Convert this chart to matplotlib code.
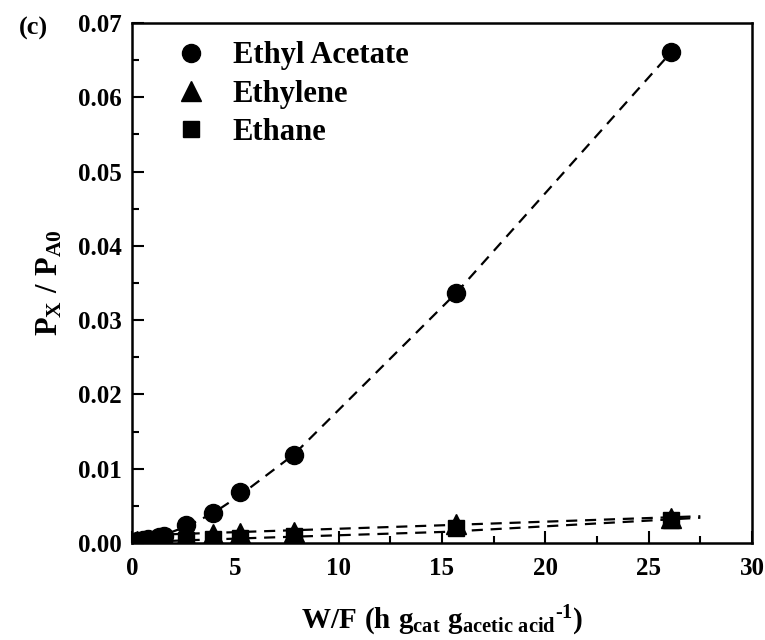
import matplotlib
matplotlib.use("Agg")
import matplotlib.pyplot as plt
from matplotlib.ticker import MultipleLocator

plt.rcParams['font.family'] = ['Liberation Serif', 'DejaVu Serif']
plt.rcParams['font.weight'] = 'bold'
plt.rcParams['mathtext.fontset'] = 'custom'
plt.rcParams['mathtext.rm'] = 'Liberation Serif:bold'
plt.rcParams['mathtext.it'] = 'Liberation Serif:bold'
plt.rcParams['mathtext.bf'] = 'Liberation Serif:bold'

# Data (W/F in h g_cat / g_acetic acid)
wf = [0.26, 0.52, 0.78, 1.30, 1.57, 2.61, 3.92, 5.22, 7.83, 15.67, 26.1]
ethyl_acetate = [0.0003, 0.0004, 0.0005, 0.0008, 0.0010, 0.0024, 0.0040, 0.0069, 0.0119, 0.0336, 0.0661]
ethylene = [0.0002, 0.0003, 0.0004, 0.0005, 0.0006, 0.0009, 0.0012, 0.0014, 0.0015, 0.0025, 0.0034]
ethane = [0.0001, 0.0001, 0.0002, 0.0002, 0.0003, 0.0004, 0.0006, 0.0007, 0.0009, 0.0020, 0.0031]

# Dashed model curves
ea_fit_x = [0.0, 0.26, 0.52, 0.78, 1.30, 1.57, 2.61, 3.92, 5.22, 7.83, 15.67, 26.1]
ea_fit_y = [0.0, 0.0002, 0.0004, 0.0006, 0.0009, 0.0011, 0.0022, 0.0040, 0.0064, 0.0119, 0.0336, 0.0661]
ethylene_fit_x = [0.0, 5.5, 15.2, 27.5]
ethylene_fit_y = [0.0010, 0.0015, 0.0024, 0.0036]
ethane_fit_x = [0.0, 6.2, 15.2, 27.5]
ethane_fit_y = [0.0001, 0.0007, 0.0015, 0.0034]

fig = plt.figure(figsize=(7.65, 6.4), dpi=100)
ax = fig.add_axes([0.1725, 0.1516, 0.8105, 0.8125])

dash = (0, (5, 3.5))
ax.plot(ea_fit_x, ea_fit_y, color='black', lw=1.6, linestyle=dash)
ax.plot(ethylene_fit_x, ethylene_fit_y, color='black', lw=1.6, linestyle=dash)
ax.plot(ethane_fit_x, ethane_fit_y, color='black', lw=1.6, linestyle=dash)

ax.plot(wf, ethane, linestyle='none', marker='s', markersize=11, color='black', label='Ethane', zorder=3)
ax.plot(wf, ethylene, linestyle='none', marker='^', markersize=14, color='black', label='Ethylene', zorder=4)
ax.plot(wf, ethyl_acetate, linestyle='none', marker='o', markersize=13, color='black', label='Ethyl Acetate', zorder=5)

ax.set_xlim(0, 30)
ax.set_ylim(0, 0.07)
ax.xaxis.set_major_locator(MultipleLocator(5))
ax.xaxis.set_minor_locator(MultipleLocator(2.5))
ax.yaxis.set_major_locator(MultipleLocator(0.01))
ax.yaxis.set_minor_locator(MultipleLocator(0.005))
ax.yaxis.set_major_formatter(matplotlib.ticker.FormatStrFormatter('%.2f'))

ax.tick_params(which='both', direction='in', width=1.5, labelsize=18)
ax.tick_params(which='major', length=8.5)
ax.tick_params(which='minor', length=5)
ax.tick_params(axis='x', which='major', pad=10)
ax.tick_params(axis='y', which='major', pad=7)
for lab in ax.get_xticklabels() + ax.get_yticklabels():
    lab.set_fontweight('bold')
for sp in ax.spines.values():
    sp.set_linewidth(1.8)

ax.set_xlabel('$\\mathrm{W/F\\ (h\\ g_{cat}\\ g_{acetic\\ acid}{}^{\u20101})}$',
              fontsize=21, labelpad=17)
ax.set_ylabel(r'$\mathrm{P_X\ /\ P_{A0}}$', fontsize=22, labelpad=10)

handles, labels = ax.get_legend_handles_labels()
order = [2, 1, 0]
ax.legend([handles[i] for i in order], [labels[i] for i in order], loc='upper left',
          bbox_to_anchor=(0.0355, 0.988), borderaxespad=0.0,
          frameon=False, handletextpad=0.57, labelspacing=0.3,
          handlelength=1.6, borderpad=0.4,
          prop={'weight': 'bold', 'size': 22})

fig.text(0.025, 0.955, '(c)', fontsize=19, fontweight='bold', ha='left', va='center')

fig.savefig('out.png', dpi=100)
